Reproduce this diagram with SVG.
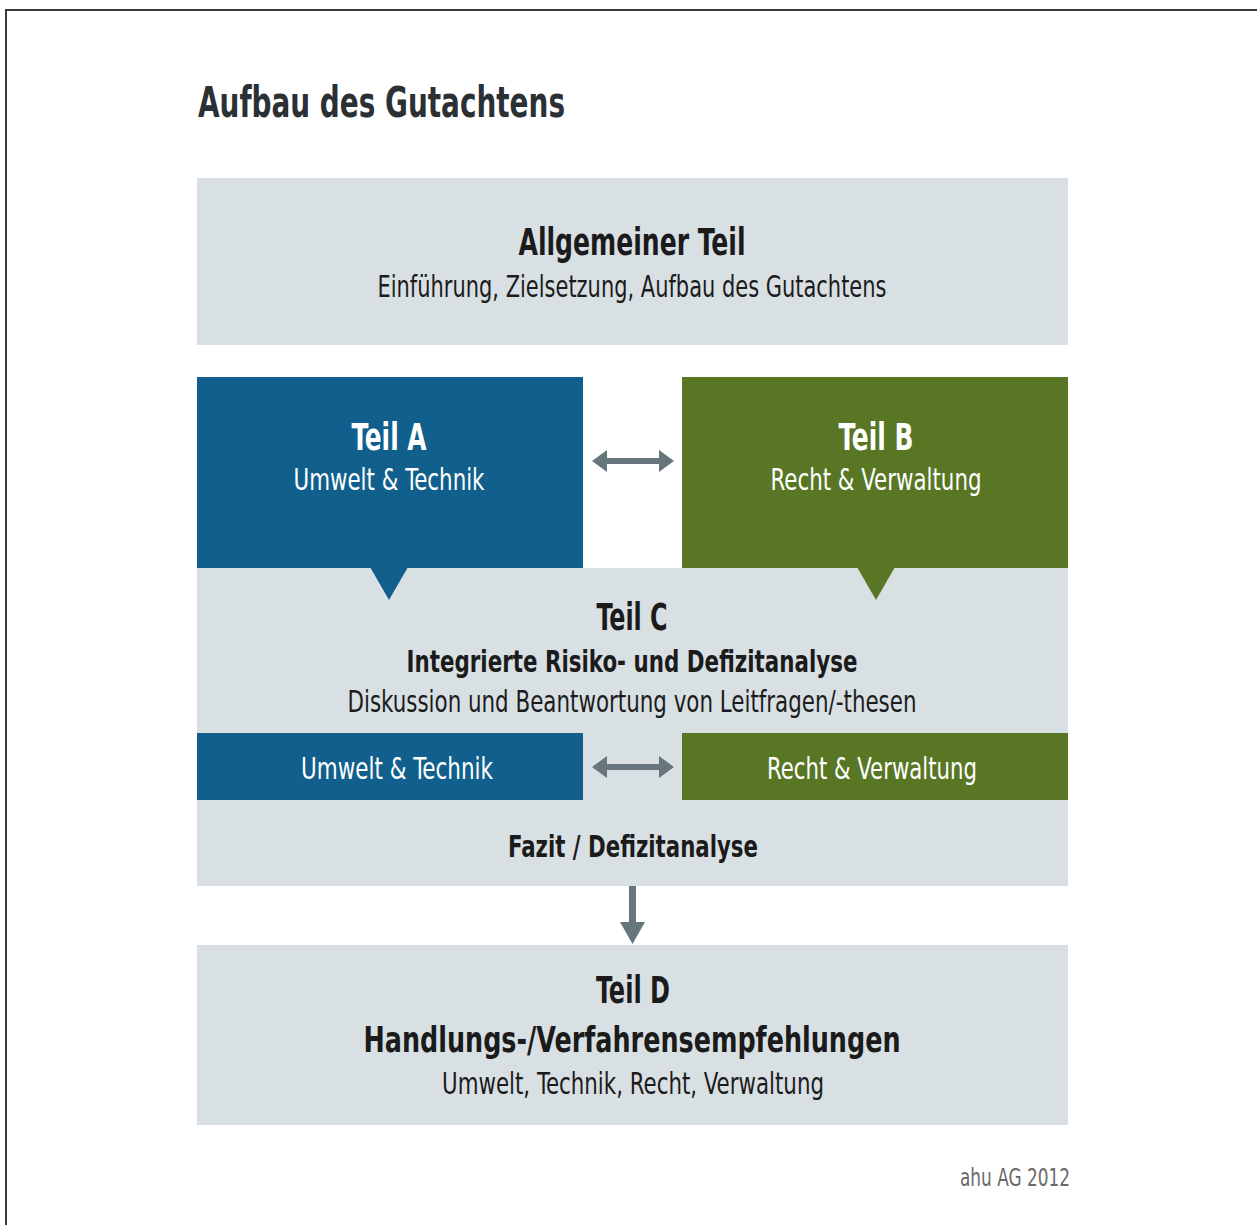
<svg xmlns="http://www.w3.org/2000/svg" width="1257" height="1225" viewBox="0 0 1257 1225">
<style>
text{font-family:"Liberation Sans Narrow","DejaVu Sans","Liberation Sans",sans-serif;font-stretch:condensed;text-anchor:middle}
.b{font-weight:bold}
.w{fill:#ffffff}
.d{fill:#1b1b1b}
.gray{fill:#d9e0e3}
.arr{fill:#67757d}
</style>
<rect x="0" y="0" width="1257" height="1225" fill="#ffffff"/>
<path d="M6,1230 V10 H1262" fill="none" stroke="#3a3a3a" stroke-width="2"/>
<text x="198" y="117" class="b" style="text-anchor:start;fill:#2b3035" font-size="42" textLength="367" lengthAdjust="spacingAndGlyphs">Aufbau des Gutachtens</text>

<g id="allgemeiner-teil">
<rect class="gray" x="197" y="178" width="871" height="167"/>
<text x="632" y="255" class="b d" font-size="37" textLength="227" lengthAdjust="spacingAndGlyphs">Allgemeiner Teil</text>
<text x="632" y="297" class="d" font-size="30" textLength="509" lengthAdjust="spacingAndGlyphs">Einführung, Zielsetzung, Aufbau des Gutachtens</text>
</g>

<g id="teil-c">
<rect class="gray" x="197" y="568" width="871" height="318"/>
<text x="632" y="630" class="b d" font-size="37" textLength="71" lengthAdjust="spacingAndGlyphs">Teil C</text>
<text x="632" y="672" class="b d" font-size="30" textLength="451" lengthAdjust="spacingAndGlyphs">Integrierte Risiko- und Defizitanalyse</text>
<text x="632" y="712" class="d" font-size="30" textLength="569" lengthAdjust="spacingAndGlyphs">Diskussion und Beantwortung von Leitfragen/-thesen</text>
<text x="633" y="857" class="b d" font-size="30" textLength="250" lengthAdjust="spacingAndGlyphs">Fazit / Defizitanalyse</text>
</g>

<g id="teil-a">
<rect x="197" y="377" width="386" height="191" fill="#115f8c"/>
<polygon points="370,567 408,567 389,600" fill="#115f8c"/>
<text x="389" y="450" class="b w" font-size="37" textLength="75" lengthAdjust="spacingAndGlyphs">Teil A</text>
<text x="389" y="490" class="w" font-size="30" textLength="191" lengthAdjust="spacingAndGlyphs">Umwelt &amp; Technik</text>
</g>

<g id="teil-b">
<rect x="682" y="377" width="386" height="191" fill="#587624"/>
<polygon points="857,567 895,567 876,600" fill="#587624"/>
<text x="876" y="450" class="b w" font-size="37" textLength="75" lengthAdjust="spacingAndGlyphs">Teil B</text>
<text x="876" y="490" class="w" font-size="30" textLength="211" lengthAdjust="spacingAndGlyphs">Recht &amp; Verwaltung</text>
</g>

<g id="c-umwelt-technik">
<rect x="197" y="733" width="386" height="67" fill="#115f8c"/>
<text x="397" y="779" class="w" font-size="30" textLength="192" lengthAdjust="spacingAndGlyphs">Umwelt &amp; Technik</text>
</g>

<g id="c-recht-verwaltung">
<rect x="682" y="733" width="386" height="67" fill="#587624"/>
<text x="872" y="779" class="w" font-size="30" textLength="210" lengthAdjust="spacingAndGlyphs">Recht &amp; Verwaltung</text>
</g>

<g id="teil-d">
<rect class="gray" x="197" y="945" width="871" height="180"/>
<text x="633" y="1003" class="b d" font-size="37" textLength="74" lengthAdjust="spacingAndGlyphs">Teil D</text>
<text x="632" y="1052" class="b d" font-size="36" textLength="537" lengthAdjust="spacingAndGlyphs">Handlungs-/Verfahrensempfehlungen</text>
<text x="633" y="1094" class="d" font-size="30" textLength="382" lengthAdjust="spacingAndGlyphs">Umwelt, Technik, Recht, Verwaltung</text>
</g>

<g id="connectors">
<polygon class="arr" points="592,461 607,450 607,458 659,458 659,450 674,461 659,472 659,464 607,464 607,472"/>
<polygon class="arr" points="592,767 607,756 607,764 659,764 659,756 674,767 659,778 659,770 607,770 607,778"/>
<polygon class="arr" points="629,886 636,886 636,922 645,922 632.5,944 620,922 629,922"/>
</g>

<text x="1070" y="1186" style="text-anchor:end;fill:#6a6a6a" font-size="24" textLength="110" lengthAdjust="spacingAndGlyphs">ahu AG 2012</text>
</svg>
